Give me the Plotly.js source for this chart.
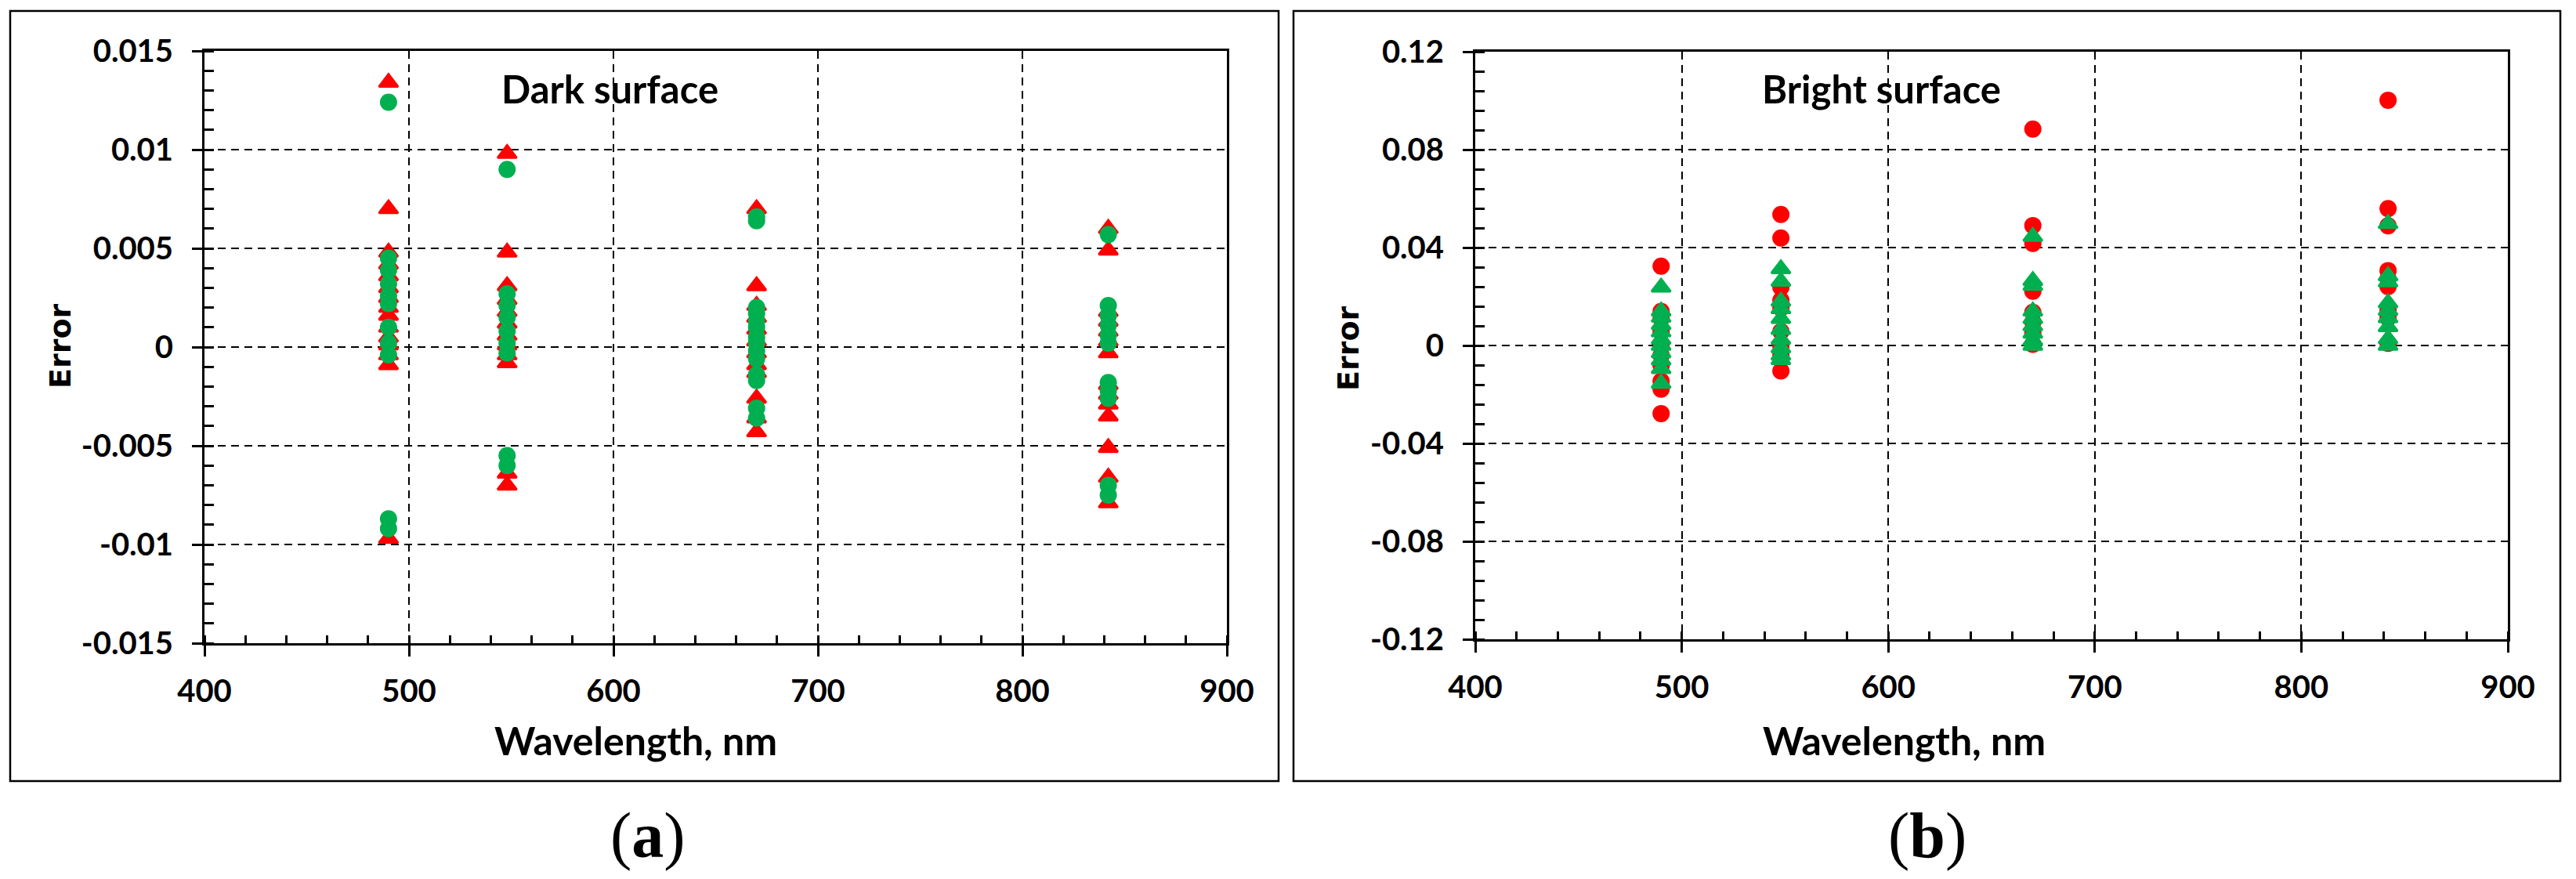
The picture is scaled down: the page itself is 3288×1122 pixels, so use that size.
<!DOCTYPE html>
<html>
<head>
<meta charset="utf-8">
<script src="https://cdn.plot.ly/plotly-3.0.1.min.js"></script>
<style>
  html, body { margin: 0; padding: 0; background: #fff; }
  #chart { width: 3288px; height: 1122px; }
</style>
</head>
<body>
<div id="chart"></div>
<script>
// wavelength columns (nm)
const wavelengths = [490, 548, 670, 842];

// Dark surface: red triangles / green circles, one list per wavelength
const darkRedTri = [
  [0.0134, 0.0070, 0.0048, 0.0042, 0.0036, 0.0030, 0.0025, 0.0020, 0.0016, 0.0010, 0.0005, 0.0001, -0.0004, -0.0009, -0.0097],
  [0.0098, 0.0048, 0.0031, 0.0024, 0.0018, 0.0012, 0.0006, 0.0001, -0.0004, -0.0008, -0.0064, -0.0070],
  [0.0070, 0.0031, 0.0021, 0.0015, 0.0009, 0.0003, -0.0003, -0.0009, -0.0013, -0.0026, -0.0036, -0.0043],
  [0.0060, 0.0049, 0.0018, 0.0013, 0.0008, 0.0003, -0.0003, -0.0019, -0.0024, -0.0029, -0.0035, -0.0051, -0.0066, -0.0079]
];
const darkGreenCirc = [
  [0.0124, 0.0045, 0.0039, 0.0032, 0.0026, 0.0022, 0.0010, 0.0002, -0.0004, -0.0087, -0.0092],
  [0.0090, 0.0027, 0.0021, 0.0015, 0.0008, 0.0002, -0.0003, -0.0055, -0.0060],
  [0.0066, 0.0064, 0.0020, 0.0017, 0.0013, 0.0010, 0.0005, 0.0002, -0.0002, -0.0006, -0.0014, -0.0017, -0.0031, -0.0036],
  [0.0057, 0.0021, 0.0016, 0.0011, 0.0006, 0.0002, -0.0018, -0.0022, -0.0026, -0.0070, -0.0075]
];

// Bright surface: red circles / green triangles
const brightRedCirc = [
  [0.0324, 0.0139, 0.0110, 0.0057, 0.0009, -0.0040, -0.0082, -0.0146, -0.0178, -0.0278],
  [0.0535, 0.0439, 0.0238, 0.0185, 0.0153, 0.0057, -0.0002, -0.0040, -0.0104],
  [0.0884, 0.0490, 0.0417, 0.0222, 0.0135, 0.0096, 0.0050, 0.0005],
  [0.1002, 0.0559, 0.0489, 0.0306, 0.0272, 0.0241, 0.0143, 0.0113, 0.0009]
];
const brightGreenTri = [
  [0.0238, 0.0140, 0.0115, 0.0085, 0.0055, 0.0025, 0.0000, -0.0030, -0.0060, -0.0095, -0.0155],
  [0.0313, 0.0262, 0.0180, 0.0150, 0.0110, 0.0065, 0.0025, -0.0010, -0.0040, -0.0058],
  [0.0445, 0.0265, 0.0245, 0.0140, 0.0110, 0.0080, 0.0050, 0.0020, 0.0000],
  [0.0498, 0.0284, 0.0259, 0.0174, 0.0143, 0.0113, 0.0076, 0.0027, 0.0000]
];

// tick labels (hyphen minus, as in the figure)
const xTicks = [400, 500, 600, 700, 800, 900];
const darkTickVals = [-0.015, -0.01, -0.005, 0, 0.005, 0.01, 0.015];
const darkTickText = ['-0.015', '-0.01', '-0.005', '0', '0.005', '0.01', '0.015'];
const brightTickVals = [-0.12, -0.08, -0.04, 0, 0.04, 0.08, 0.12];
const brightTickText = ['-0.12', '-0.08', '-0.04', '0', '0.04', '0.08', '0.12'];

const RED = '#FF0000';
const GREEN = '#00B050';
const W = 3288, H = 1122;

// flatten one series (list per wavelength) into x/y
function flat(series) {
  const x = [], y = [];
  series.forEach((vals, i) => {
    vals.forEach(v => { x.push(wavelengths[i]); y.push(v); });
  });
  return { x, y };
}

function markerTrace(series, symbol, color, size, xa, ya) {
  const d = flat(series);
  return {
    x: d.x, y: d.y, xaxis: xa, yaxis: ya,
    type: 'scatter', mode: 'markers',
    marker: { symbol: symbol, color: color, size: size,
              line: { width: symbol === 'circle' ? 0 : 3, color: color } },
    hoverinfo: 'x+y'
  };
}

const data = [
  markerTrace(darkRedTri, 'triangle-up', RED, 21, 'x', 'y'),
  markerTrace(darkGreenCirc, 'circle', GREEN, 22, 'x', 'y'),
  markerTrace(brightRedCirc, 'circle', RED, 22, 'x2', 'y2'),
  markerTrace(brightGreenTri, 'triangle-up', GREEN, 21, 'x2', 'y2')
];

const tickFont = { family: 'Lato', size: 40, color: '#000', weight: 'bold' };

function xAxis(domain, anchor) {
  return {
    domain: domain, anchor: anchor, range: [400, 900],
    tickvals: xTicks, ticktext: xTicks.map(String),
    ticks: 'outside', ticklen: 14, tickwidth: 3, tickcolor: '#000',
    ticklabelstandoff: 10,
    minor: { dtick: 20, ticks: 'inside', ticklen: 10, tickwidth: 3, tickcolor: '#000', showgrid: false },
    showline: true, linecolor: '#000', linewidth: 3, mirror: true,
    showgrid: true, gridcolor: '#000', gridwidth: 2, griddash: '10px,7px',
    zeroline: false, tickfont: tickFont, fixedrange: true
  };
}

function yAxis(domain, anchor, range, vals, text, minorStep) {
  return {
    domain: domain, anchor: anchor, range: range,
    tickvals: vals, ticktext: text,
    ticks: 'outside', ticklen: 13, tickwidth: 3, tickcolor: '#000',
    ticklabelstandoff: 16,
    minor: { dtick: minorStep, ticks: 'inside', ticklen: 12, tickwidth: 3, tickcolor: '#000', showgrid: false },
    showline: true, linecolor: '#000', linewidth: 3, mirror: true,
    showgrid: true, gridcolor: '#000', gridwidth: 2, griddash: '10px,7px',
    zeroline: false, tickfont: tickFont, fixedrange: true
  };
}

const labelFont = { family: 'Lato', size: 50, color: '#000', weight: 'bold' };
const noteFont = { family: 'Lato', size: 49, color: '#000', weight: 'bold' };
const errFont = { family: 'DejaVu Sans', size: 38, color: '#000', weight: 'bold' };
const capFont = { family: 'Liberation Serif', size: 82, color: '#000' };

function px(x) { return x / W; }
function py(y) { return 1 - y / H; }

// centred text placed in page pixels
function label(text, x, y, font, angle) {
  return { text: text, xref: 'paper', yref: 'paper', x: px(x), y: py(y),
           xanchor: 'center', yanchor: 'middle', textangle: angle || 0,
           showarrow: false, font: font };
}

const layout = {
  width: W, height: H,
  margin: { l: 0, r: 0, t: 0, b: 0 },
  paper_bgcolor: '#fff', plot_bgcolor: '#fff',
  showlegend: false,
  xaxis: xAxis([px(261), px(1566)], 'y'),
  yaxis: yAxis([py(821), py(65)], 'x', [-0.015, 0.015], darkTickVals, darkTickText, 0.001),
  xaxis2: xAxis([px(1883), px(3201)], 'y2'),
  yaxis2: yAxis([py(816), py(66)], 'x2', [-0.12, 0.12], brightTickVals, brightTickText, 0.008),
  shapes: [
    { type: 'rect', xref: 'paper', yref: 'paper', x0: px(13), x1: px(1632), y0: py(997), y1: py(14),
      line: { color: '#000', width: 2.5 } },
    { type: 'rect', xref: 'paper', yref: 'paper', x0: px(1651), x1: px(3268), y0: py(997), y1: py(14),
      line: { color: '#000', width: 2.5 } }
  ],
  annotations: [
    label('Dark surface', 778, 113, noteFont),
    label('Bright surface', 2401, 113, noteFont),
    label('Wavelength, nm', 811, 945, labelFont),
    label('Wavelength, nm', 2430, 945, labelFont),
    label('Error', 77, 442, errFont, -90),
    label('Error', 1721, 445, errFont, -90),
    label('(<b>a</b>)', 827, 1066, capFont),
    label('(<b>b</b>)', 2460, 1066, capFont)
  ]
};

Plotly.newPlot('chart', data, layout, { staticPlot: true, displayModeBar: false });
</script>
</body>
</html>
